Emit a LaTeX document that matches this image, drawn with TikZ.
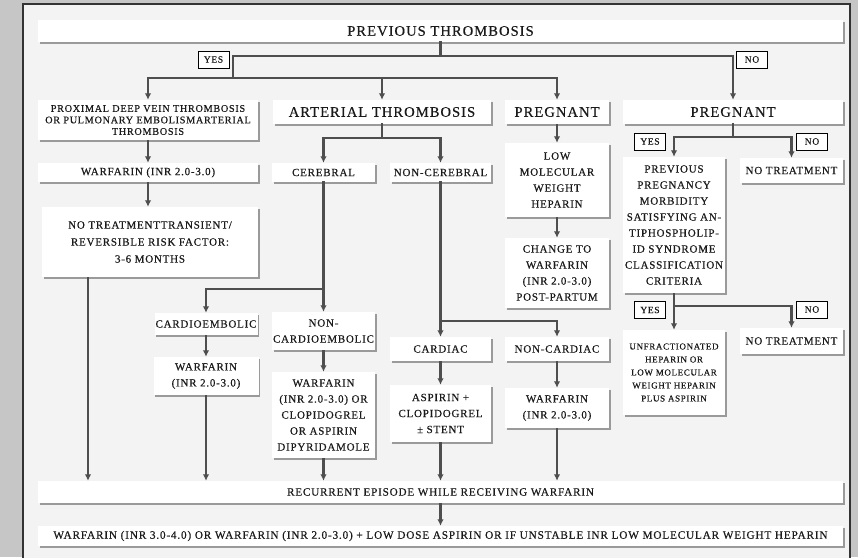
\documentclass[tikz,border=0pt]{standalone}
\usepackage{fontspec}
\setmainfont[LetterSpace=7, FakeBold=0.4]{Liberation Serif}
\usetikzlibrary{arrows.meta,shadows}
\definecolor{outerbg}{HTML}{C6C6C6}
\definecolor{panelbg}{HTML}{F3F3F3}
\definecolor{framecol}{HTML}{333333}
\definecolor{lncol}{HTML}{4E4E4E}
\definecolor{shcol}{HTML}{9A9A9A}
\definecolor{txtcol}{HTML}{1A1A1A}
\tikzset{
 box/.style={fill=white, inner sep=1pt, align=center, text=txtcol,
   font=\fontsize{11}{16}\selectfont,
   drop shadow={shadow xshift=1.5pt,shadow yshift=-2pt,fill=shcol,opacity=1}},
 bigbox/.style={box, font=\fontsize{14.6}{18}\selectfont},
 tag/.style={draw=black, line width=0.9pt, fill=white, inner sep=0pt,
   minimum width=31pt, minimum height=17pt, font=\fontsize{9.5}{10}\selectfont, text=txtcol},
 ln/.style={draw=lncol, line width=2.4pt, line cap=rect},
 arr/.style={draw=lncol, line width=2.4pt, -{Latex[length=6.5pt,width=6.5pt]}},
}
\begin{document}
\begin{tikzpicture}[x=1pt,y=-1pt]
\useasboundingbox (0,0) rectangle (858,557);
\clip (0,0) rectangle (858,557);
\fill[outerbg] (0,0) rectangle (858,557);
\draw[fill=panelbg, draw=framecol, line width=2pt] (23,4) rectangle (850,600);

% nodes
\node[bigbox, minimum width=805pt, minimum height=22pt] (top) at (440.5,31) {PREVIOUS THROMBOSIS};
\node[tag] (yes1) at (213.5,59.5) {YES};
\node[tag] (no1) at (752,59.5) {NO};
\node[box, minimum width=220pt, minimum height=40pt, font=\fontsize{10.2}{11.5}\selectfont] (prox) at (148,120) {PROXIMAL DEEP VEIN THROMBOSIS\\OR PULMONARY EMBOLISMARTERIAL\\THROMBOSIS};
\node[bigbox, minimum width=218pt, minimum height=24pt] (art) at (382,112) {ARTERIAL THROMBOSIS};
\node[bigbox, minimum width=104pt, minimum height=24pt] (preg1) at (557,112) {PREGNANT};
\node[bigbox, minimum width=220pt, minimum height=24pt] (preg2) at (733,112) {PREGNANT};
\node[box, minimum width=220pt, minimum height=19pt] (warf1) at (148,172.5) {WARFARIN (INR 2.0-3.0)};
\node[box, minimum width=103pt, minimum height=19pt] (cereb) at (323.5,172.5) {CEREBRAL};
\node[box, minimum width=101pt, minimum height=19pt] (noncereb) at (440.5,172.5) {NON-CEREBRAL};
\node[box, minimum width=104pt, minimum height=74pt] (lmwh) at (557,180) {LOW\\MOLECULAR\\WEIGHT\\HEPARIN};
\node[box, minimum width=104pt, minimum height=70pt] (change) at (557,273) {CHANGE TO\\WARFARIN\\(INR 2.0-3.0)\\POST-PARTUM};
\node[tag] (yes2) at (650,141.5) {YES};
\node[tag] (no2) at (812,141.5) {NO};
\node[box, minimum width=102pt, minimum height=136pt] (prevpreg) at (674,225) {PREVIOUS\\PREGNANCY\\MORBIDITY\\SATISFYING AN-\\TIPHOSPHOLIP-\\ID SYNDROME\\CLASSIFICATION\\CRITERIA};
\node[box, minimum width=103pt, minimum height=25pt] (nt1) at (791.5,170.5) {NO TREATMENT};
\node[tag] (yes3) at (650,310) {YES};
\node[tag] (no3) at (812,309.5) {NO};
\node[box, minimum width=102pt, minimum height=85pt, font=\fontsize{9}{13}\selectfont] (unfrac) at (674,372.5) {UNFRACTIONATED\\HEPARIN OR\\LOW MOLECULAR\\WEIGHT HEPARIN\\PLUS ASPIRIN};
\node[box, minimum width=103pt, minimum height=26pt] (nt2) at (791.5,341) {NO TREATMENT};
\node[box, minimum width=216pt, minimum height=70pt, font=\fontsize{11}{17}\selectfont] (nt3) at (150,242) {NO TREATMENTTRANSIENT/\\REVERSIBLE RISK FACTOR:\\3-6 MONTHS};
\node[box, minimum width=103pt, minimum height=22pt] (cemb) at (206,324) {CARDIOEMBOLIC};
\node[box, minimum width=103pt, minimum height=38pt] (ncemb) at (323.5,331) {NON-\\CARDIOEMBOLIC};
\node[box, minimum width=105pt, minimum height=38pt] (warf2) at (206,376) {WARFARIN\\(INR 2.0-3.0)};
\node[box, minimum width=103pt, minimum height=86pt] (warfor) at (323.5,415) {WARFARIN\\(INR 2.0-3.0) OR\\CLOPIDOGREL\\OR ASPIRIN\\DIPYRIDAMOLE};
\node[box, minimum width=101pt, minimum height=24pt] (card) at (440.5,349) {CARDIAC};
\node[box, minimum width=104pt, minimum height=24pt] (ncard) at (557,349) {NON-CARDIAC};
\node[box, minimum width=101pt, minimum height=57pt] (asp) at (440.5,413.5) {ASPIRIN +\\CLOPIDOGREL\\± STENT};
\node[box, minimum width=104pt, minimum height=40pt] (warf3) at (557,408) {WARFARIN\\(INR 2.0-3.0)};
\node[box, minimum width=805pt, minimum height=22pt, font=\fontsize{11.2}{16}\selectfont] (rec) at (440.5,492) {RECURRENT EPISODE WHILE RECEIVING WARFARIN};
\node[box, minimum width=805pt, minimum height=20pt, font=\fontsize{11.3}{16}\selectfont] (fin) at (440.5,536) {WARFARIN (INR 3.0-4.0) OR WARFARIN (INR 2.0-3.0) + LOW DOSE ASPIRIN OR IF UNSTABLE INR LOW MOLECULAR WEIGHT HEPARIN};

% helper coordinates
\coordinate (bA) at (0,56);
\coordinate (bB) at (0,78);
\coordinate (bC) at (0,138);
\coordinate (bD) at (0,137);
\coordinate (bE) at (0,289);
\coordinate (bF) at (0,321);
\coordinate (bG) at (0,306);
\coordinate (yesX) at (233,0);
\coordinate (lx) at (88,0);

% top split
\draw[ln] (top.south) -- (top.south |- bA);
\draw[ln] (yesX |- bA) -- (preg2.north |- bA);
\draw[ln] (yesX |- bA) -- (yesX |- bB);
\draw[ln] (prox.north |- bB) -- (preg1.north |- bB);
\draw[arr] (prox.north |- bB) -- (prox.north);
\draw[arr] (art.north |- bB) -- (art.north);
\draw[arr] (preg1.north |- bB) -- (preg1.north);
\draw[arr] (preg2.north |- bA) -- (preg2.north);

% arterial
\draw[ln] (art.south) -- (art.south |- bC);
\draw[ln] (cereb.north |- bC) -- (noncereb.north |- bC);
\draw[arr] (cereb.north |- bC) -- (cereb.north);
\draw[arr] (noncereb.north |- bC) -- (noncereb.north);

% pregnant (middle)
\draw[arr] (preg1.south) -- (lmwh.north);
\draw[arr] (lmwh.south) -- (change.north);

% pregnant (right)
\draw[ln] (preg2.south) -- (preg2.south |- bD);
\draw[ln] (prevpreg.north |- bD) -- (nt1.north |- bD);
\draw[arr] (prevpreg.north |- bD) -- (prevpreg.north);
\draw[arr] (nt1.north |- bD) -- (nt1.north);
\draw[arr] (prevpreg.south) -- (unfrac.north);
\draw[ln] (prevpreg.south |- bG) -- (nt2.north |- bG);
\draw[arr] (nt2.north |- bG) -- (nt2.north);

% venous
\draw[arr] (prox.south) -- (warf1.north);
\draw[arr] (warf1.south) -- (warf1.south |- nt3.north);
\draw[arr] (nt3.south -| lx) -- (rec.north -| lx);

% cerebral
\draw[ln] (cereb.south) -- (cereb.south |- bE);
\draw[ln] (cemb.north |- bE) -- (cereb.south |- bE);
\draw[arr] (cemb.north |- bE) -- (cemb.north);
\draw[arr] (cereb.south |- bE) -- (ncemb.north);
\draw[arr] (cemb.south) -- (warf2.north);
\draw[arr] (warf2.south) -- (warf2.south |- rec.north);
\draw[arr] (ncemb.south) -- (warfor.north);
\draw[arr] (warfor.south) -- (warfor.south |- rec.north);

% non-cerebral
\draw[ln] (noncereb.south) -- (noncereb.south |- bF);
\draw[ln] (noncereb.south |- bF) -- (ncard.north |- bF);
\draw[arr] (noncereb.south |- bF) -- (card.north);
\draw[arr] (ncard.north |- bF) -- (ncard.north);
\draw[arr] (card.south) -- (asp.north);
\draw[arr] (asp.south) -- (asp.south |- rec.north);
\draw[arr] (ncard.south) -- (warf3.north);
\draw[arr] (warf3.south) -- (warf3.south |- rec.north);

% recurrent
\draw[arr] (rec.south) -- (fin.north);
\end{tikzpicture}
\end{document}
